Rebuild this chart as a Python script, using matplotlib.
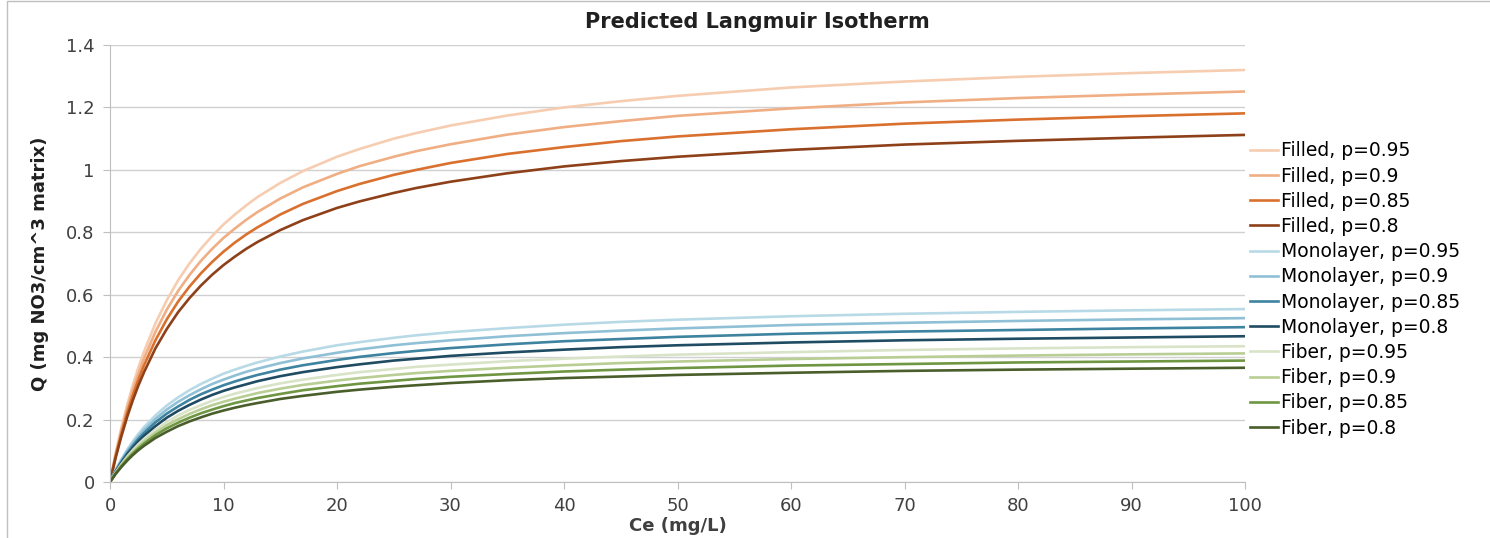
import matplotlib
matplotlib.use('Agg')
import matplotlib.pyplot as plt
from matplotlib.patches import Rectangle

# Ce values (mg/L) where the curves were read
ce = [0, 0.5, 1, 1.5, 2, 2.5, 3, 4, 5, 6, 7, 8, 9, 10, 11, 12, 13, 15, 17, 20,
      22, 25, 27, 30, 35, 40, 45, 50, 60, 70, 80, 90, 100]

filled_95 = [0, 0.093, 0.174, 0.245, 0.309, 0.367, 0.418, 0.508, 0.582, 0.646, 0.700, 0.747, 0.788, 0.825, 0.857, 0.886, 0.913, 0.958, 0.996, 1.042, 1.067, 1.100, 1.118, 1.142, 1.174, 1.200, 1.220, 1.237, 1.264, 1.283, 1.298, 1.310, 1.320]
filled_90 = [0, 0.088, 0.165, 0.233, 0.293, 0.347, 0.396, 0.481, 0.552, 0.612, 0.663, 0.708, 0.747, 0.782, 0.812, 0.840, 0.865, 0.908, 0.944, 0.987, 1.012, 1.042, 1.060, 1.082, 1.113, 1.137, 1.156, 1.173, 1.197, 1.216, 1.230, 1.241, 1.251]
filled_85 = [0, 0.083, 0.155, 0.220, 0.277, 0.328, 0.374, 0.454, 0.521, 0.578, 0.626, 0.668, 0.705, 0.738, 0.767, 0.793, 0.816, 0.857, 0.891, 0.932, 0.955, 0.984, 1.000, 1.022, 1.051, 1.073, 1.092, 1.107, 1.130, 1.148, 1.161, 1.172, 1.181]
filled_80 = [0, 0.078, 0.146, 0.207, 0.261, 0.309, 0.352, 0.428, 0.490, 0.544, 0.589, 0.629, 0.664, 0.695, 0.722, 0.747, 0.769, 0.807, 0.839, 0.878, 0.899, 0.926, 0.942, 0.962, 0.989, 1.011, 1.028, 1.042, 1.064, 1.081, 1.093, 1.103, 1.112]

mono_95 = [0, 0.039, 0.073, 0.103, 0.130, 0.154, 0.176, 0.213, 0.245, 0.271, 0.294, 0.314, 0.331, 0.347, 0.360, 0.372, 0.383, 0.402, 0.418, 0.438, 0.448, 0.462, 0.470, 0.480, 0.493, 0.504, 0.513, 0.520, 0.531, 0.539, 0.545, 0.550, 0.554]
mono_90 = [0, 0.037, 0.069, 0.098, 0.123, 0.146, 0.166, 0.202, 0.232, 0.257, 0.278, 0.297, 0.314, 0.328, 0.341, 0.353, 0.363, 0.381, 0.396, 0.414, 0.425, 0.438, 0.445, 0.454, 0.467, 0.477, 0.485, 0.492, 0.503, 0.510, 0.516, 0.521, 0.525]
mono_85 = [0, 0.035, 0.065, 0.092, 0.116, 0.138, 0.157, 0.191, 0.219, 0.242, 0.263, 0.281, 0.296, 0.310, 0.322, 0.333, 0.343, 0.360, 0.374, 0.391, 0.401, 0.413, 0.420, 0.429, 0.441, 0.451, 0.458, 0.465, 0.475, 0.482, 0.487, 0.492, 0.496]
mono_80 = [0, 0.033, 0.061, 0.087, 0.109, 0.130, 0.148, 0.179, 0.206, 0.228, 0.247, 0.264, 0.279, 0.292, 0.303, 0.313, 0.323, 0.339, 0.352, 0.368, 0.377, 0.389, 0.395, 0.404, 0.415, 0.424, 0.432, 0.438, 0.447, 0.454, 0.459, 0.463, 0.467]

fiber_95 = [0, 0.031, 0.057, 0.081, 0.102, 0.121, 0.138, 0.167, 0.192, 0.213, 0.231, 0.246, 0.260, 0.272, 0.283, 0.292, 0.301, 0.316, 0.328, 0.343, 0.352, 0.362, 0.369, 0.376, 0.387, 0.395, 0.402, 0.408, 0.416, 0.423, 0.428, 0.432, 0.435]
fiber_90 = [0, 0.029, 0.054, 0.077, 0.096, 0.114, 0.130, 0.158, 0.182, 0.201, 0.218, 0.233, 0.246, 0.257, 0.267, 0.276, 0.285, 0.299, 0.311, 0.325, 0.333, 0.343, 0.349, 0.356, 0.366, 0.374, 0.381, 0.386, 0.394, 0.400, 0.405, 0.409, 0.412]
fiber_85 = [0, 0.027, 0.051, 0.072, 0.091, 0.108, 0.123, 0.150, 0.172, 0.190, 0.206, 0.220, 0.232, 0.243, 0.253, 0.261, 0.269, 0.282, 0.294, 0.307, 0.315, 0.324, 0.330, 0.337, 0.346, 0.354, 0.360, 0.365, 0.373, 0.378, 0.383, 0.386, 0.389]
fiber_80 = [0, 0.026, 0.048, 0.068, 0.086, 0.102, 0.116, 0.141, 0.161, 0.179, 0.194, 0.207, 0.219, 0.229, 0.238, 0.246, 0.253, 0.266, 0.276, 0.289, 0.296, 0.305, 0.310, 0.317, 0.326, 0.333, 0.338, 0.343, 0.350, 0.356, 0.360, 0.363, 0.366]

labels = ['Filled, p=0.95', 'Filled, p=0.9', 'Filled, p=0.85', 'Filled, p=0.8',
          'Monolayer, p=0.95', 'Monolayer, p=0.9', 'Monolayer, p=0.85', 'Monolayer, p=0.8',
          'Fiber, p=0.95', 'Fiber, p=0.9', 'Fiber, p=0.85', 'Fiber, p=0.8']
series = [filled_95, filled_90, filled_85, filled_80,
          mono_95, mono_90, mono_85, mono_80,
          fiber_95, fiber_90, fiber_85, fiber_80]
colors = ['#F6CDB0', '#F0AE84', '#D9702E', '#8E4019',
          '#B8DAE6', '#90C0D6', '#3E83A0', '#1F4C63',
          '#D9E3C8', '#B9CE94', '#6F9642', '#495E2B']

yticks = [0, 0.2, 0.4, 0.6, 0.8, 1, 1.2, 1.4]
ytick_labels = ['0', '0.2', '0.4', '0.6', '0.8', '1', '1.2', '1.4']
xticks = [0, 10, 20, 30, 40, 50, 60, 70, 80, 90, 100]

fig = plt.figure(figsize=(14.9, 5.38), dpi=100)
ax = fig.add_axes([110/1490, 1 - 482/538, 1135/1490, 437/538])

for y, c, lab in zip(series, colors, labels):
    ax.plot(ce, y, color=c, lw=1.9, label=lab, solid_joinstyle='round')

ax.set_xlim(0, 100)
ax.set_ylim(0, 1.4)
ax.set_xticks(xticks)
ax.set_yticks(yticks)
ax.set_yticklabels(ytick_labels)
ax.grid(axis='y', color='#D0D0D0', lw=1)
ax.set_axisbelow(True)
for s in ['top', 'right']:
    ax.spines[s].set_visible(False)
ax.spines['left'].set_color('#BFBFBF')
ax.spines['bottom'].set_color('#BFBFBF')
ax.tick_params(axis='both', colors='#BFBFBF', labelcolor='#404040', labelsize=13, length=5)
ax.tick_params(axis='x', pad=6)
ax.tick_params(axis='y', pad=6)

ax.set_xlabel('Ce (mg/L)', fontsize=13, fontweight='bold', color='#404040', labelpad=1)
ax.set_ylabel('Q (mg NO3/cm^3 matrix)', fontsize=13, fontweight='bold', color='#202020', labelpad=12)
fig.text(757/1490, 1 - 22/538, 'Predicted Langmuir Isotherm', ha='center', va='center',
         fontsize=15, fontweight='bold', color='#202020')

fig.legend(loc='center left', bbox_to_anchor=(1250/1490, 1 - 289.5/538), frameon=False,
           fontsize=13.5, handlelength=1.5, handletextpad=0.15, labelspacing=0.33,
           borderpad=0, borderaxespad=0)

# chart area border
fig.patches.append(Rectangle((7/1490, -0.05), 1.1, 1.05 - 1.5/538, transform=fig.transFigure,
                             fill=False, edgecolor='#BFBFBF', lw=1))

fig.savefig('out.png', dpi=100)
